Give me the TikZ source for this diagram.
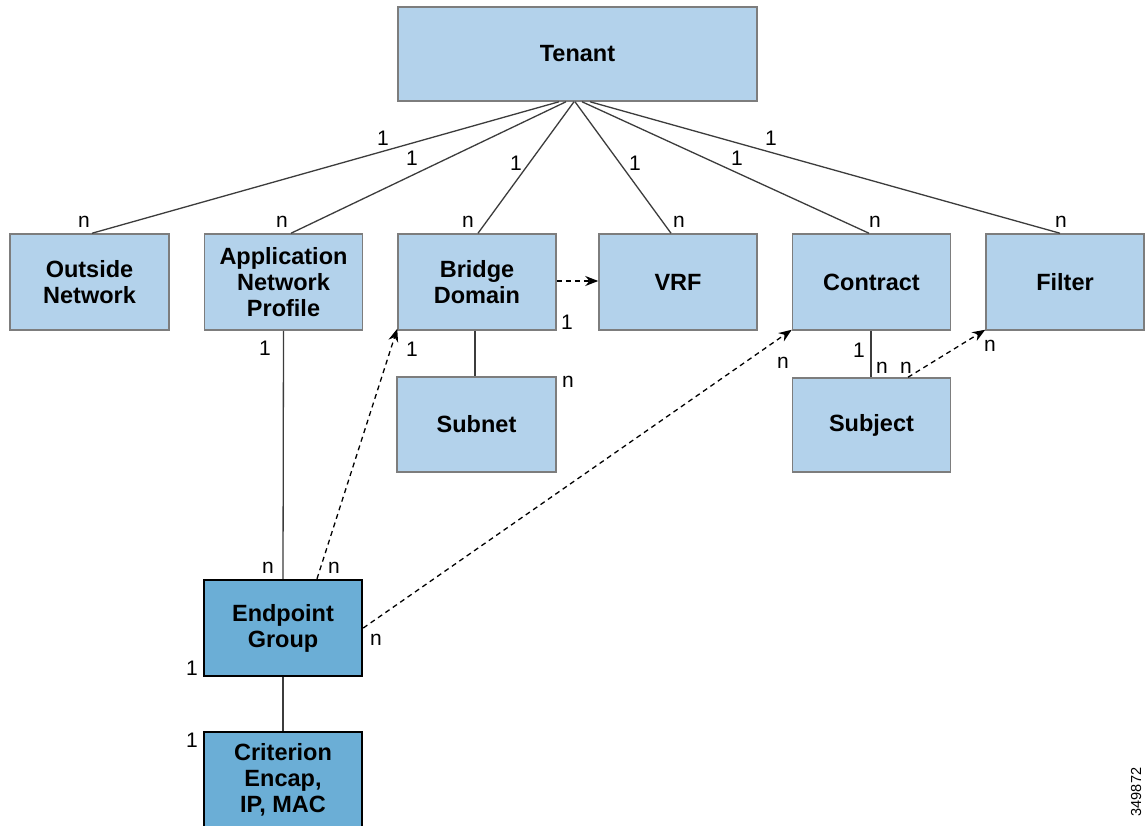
\documentclass[tikz,border=0pt]{standalone}
\usepackage{fontspec}
\setmainfont{Liberation Sans}
\usetikzlibrary{arrows.meta}
\definecolor{lightbox}{RGB}{179,210,235}
\definecolor{darkbox}{RGB}{107,174,214}
\definecolor{boxedge}{RGB}{125,125,125}
\definecolor{linecol}{RGB}{60,60,60}
\tikzset{
  lbox/.style={draw=boxedge, line width=1.5pt, fill=lightbox, rectangle, inner sep=0pt,
    minimum width=158pt, minimum height=96pt, align=center,
    font=\bfseries\fontsize{23.5}{26}\selectfont},
  dbox/.style={lbox, draw=black, line width=2.5pt, fill=darkbox},
  rel/.style={draw=linecol, line width=1.3pt},
  ref/.style={draw=black, line width=1.3pt, dash pattern=on 5pt off 4pt,
    -{Stealth[length=13pt,width=10pt]}},
  card/.style={inner sep=0pt, font=\fontsize{21}{24}\selectfont}
}
\begin{document}
\begin{tikzpicture}[x=1pt,y=-1pt]
\clip (0,0) rectangle (1145,825);
\fill[white] (0,0) rectangle (1145,825);

\node[lbox, minimum width=359pt, minimum height=94pt] (tenant) at (577.5,54) {Tenant};
\node[lbox, minimum width=159pt] (outside) at (89.5,282) {Outside\\Network};
\node[lbox] (app) at (283.5,282) {Application\\Network\\Profile};
\node[lbox] (bridge) at (477,282) {Bridge\\Domain};
\node[lbox] (vrf) at (678,282) {VRF};
\node[lbox] (contract) at (871.5,282) {Contract};
\node[lbox] (filter) at (1065,282) {Filter};
\node[lbox, minimum width=159pt, minimum height=95pt] (subnet) at (476.5,424.5) {Subnet};
\node[lbox, minimum height=94pt] (subject) at (871.5,425) {Subject};
\node[dbox] (epg) at (283,628) {Endpoint\\Group};
\node[dbox] (crit) at (283,780) {Criterion\\Encap,\\IP, MAC};

% tenant relations
\draw[rel] ([xshift=-18.5pt]tenant.south) -- ([xshift=2.5pt]outside.north);
\draw[rel] ([xshift=-11.5pt]tenant.south) -- ([xshift=7.5pt]app.north);
\draw[rel] ([xshift=-3.5pt]tenant.south) -- ([xshift=1pt]bridge.north);
\draw[rel] ([xshift=-2.5pt]tenant.south) -- ([xshift=-7pt]vrf.north);
\draw[rel] ([xshift=4.5pt]tenant.south) -- ([xshift=-2.5pt]contract.north);
\draw[rel] ([xshift=12.5pt]tenant.south) -- ([xshift=-5pt]filter.north);

% other relations
\draw[rel] (app.south) -- (epg.north);
\draw[rel] ([xshift=-2pt]bridge.south) -- ([xshift=-1.5pt]subnet.north);
\draw[rel] ([xshift=-0.5pt]contract.south) -- ([xshift=-0.5pt]subject.north);
\draw[rel] (epg.south) -- (crit.north);

% references
\draw[ref] ([yshift=1pt]bridge.east) -- ([yshift=1pt]vrf.west);
\draw[ref] ([xshift=34pt]epg.north) -- ([shift={(0pt,2pt)}]bridge.south west);
\draw[ref] (epg.east) -- ([shift={(0pt,1pt)}]contract.south west);
\draw[ref] ([xshift=36.5pt]subject.north) -- ([shift={(0pt,1pt)}]filter.south west);

% cardinalities
\node[card] (c1) at (383,138) {1};
\node[card] (c2) at (412,158) {1};
\node[card] (c3) at (516,163) {1};
\node[card] (c4) at (635,163) {1};
\node[card] (c5) at (737,158) {1};
\node[card] (c6) at (771,138) {1};
\node[card] (n1) at (84,222) {n};
\node[card] (n2) at (282,222) {n};
\node[card] (n3) at (468,222) {n};
\node[card] (n4) at (679,222) {n};
\node[card] (n5) at (875,222) {n};
\node[card] (n6) at (1061,222) {n};
\node[card] (c7) at (567,322) {1};
\node[card] (c8) at (265,348) {1};
\node[card] (c9) at (412,349) {1};
\node[card] (n7) at (568,382) {n};
\node[card] (n8) at (268,568) {n};
\node[card] (n9) at (334,568) {n};
\node[card] (n10) at (376,640) {n};
\node[card] (c10) at (192,668) {1};
\node[card] (c11) at (192,740) {1};
\node[card] (c12) at (859,350) {1};
\node[card] (n11) at (882,368) {n};
\node[card] (n12) at (906,368) {n};
\node[card] (n13) at (990,346) {n};
\node[card] (n14) at (783,363) {n};

\node[inner sep=0pt, rotate=90, font=\fontsize{14.5}{16}\selectfont] (code) at (1136,792) {349872};
\end{tikzpicture}
\end{document}
